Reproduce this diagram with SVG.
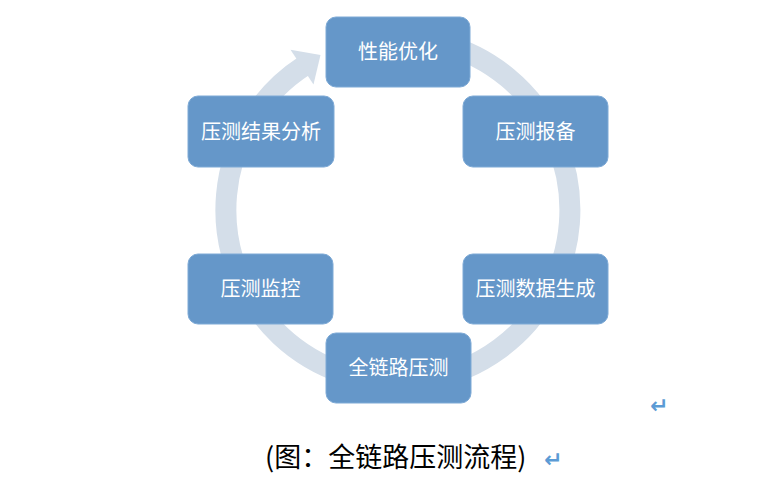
<svg xmlns="http://www.w3.org/2000/svg" width="778" height="492" viewBox="0 0 778 492">
<style>
.box{fill:#6597c9;stroke:#7eaad6;stroke-width:1}
.lbl{font-family:"Noto Sans CJK SC","Noto Sans",sans-serif;font-size:20px;fill:#ffffff;text-anchor:middle}
.cap{font-family:"Noto Sans CJK SC","Noto Sans",sans-serif;font-size:27px;fill:#000000}
.ret{font-family:"DejaVu Sans",sans-serif;font-size:22px;font-weight:bold;fill:#5b9bd5}
</style>
<rect width="778" height="492" fill="#ffffff"/>
<g id="connectors">
<path d="M 442.5 43.9 A 172 172 0 1 1 304.3 65.7" fill="none" stroke="#d4dee9" stroke-width="21"/>
<polygon points="290.5,49.8 313.5,84.5 320.5,55" fill="#d4dee9"/>
</g>
<g id="n1"><rect class="box" x="326" y="17" width="144" height="70" rx="10"/><text class="lbl" x="398" y="59">性能优化</text></g>
<g id="n2"><rect class="box" x="463" y="96" width="145" height="71" rx="10"/><text class="lbl" x="535.5" y="138.5">压测报备</text></g>
<g id="n3"><rect class="box" x="463" y="254" width="145" height="70" rx="10"/><text class="lbl" x="535.5" y="296">压测数据生成</text></g>
<g id="n4"><rect class="box" x="326" y="333" width="145" height="70" rx="10"/><text class="lbl" x="398.5" y="375">全链路压测</text></g>
<g id="n5"><rect class="box" x="188" y="254" width="145" height="70" rx="10"/><text class="lbl" x="260.5" y="296">压测监控</text></g>
<g id="n6"><rect class="box" x="188" y="96" width="146" height="71" rx="10"/><text class="lbl" x="261" y="138.5">压测结果分析</text></g>
<text class="ret" x="650" y="413">↵</text>
<text class="cap" x="265" y="467">(图：全链路压测流程)</text>
<text class="ret" x="544" y="467">↵</text>
</svg>
